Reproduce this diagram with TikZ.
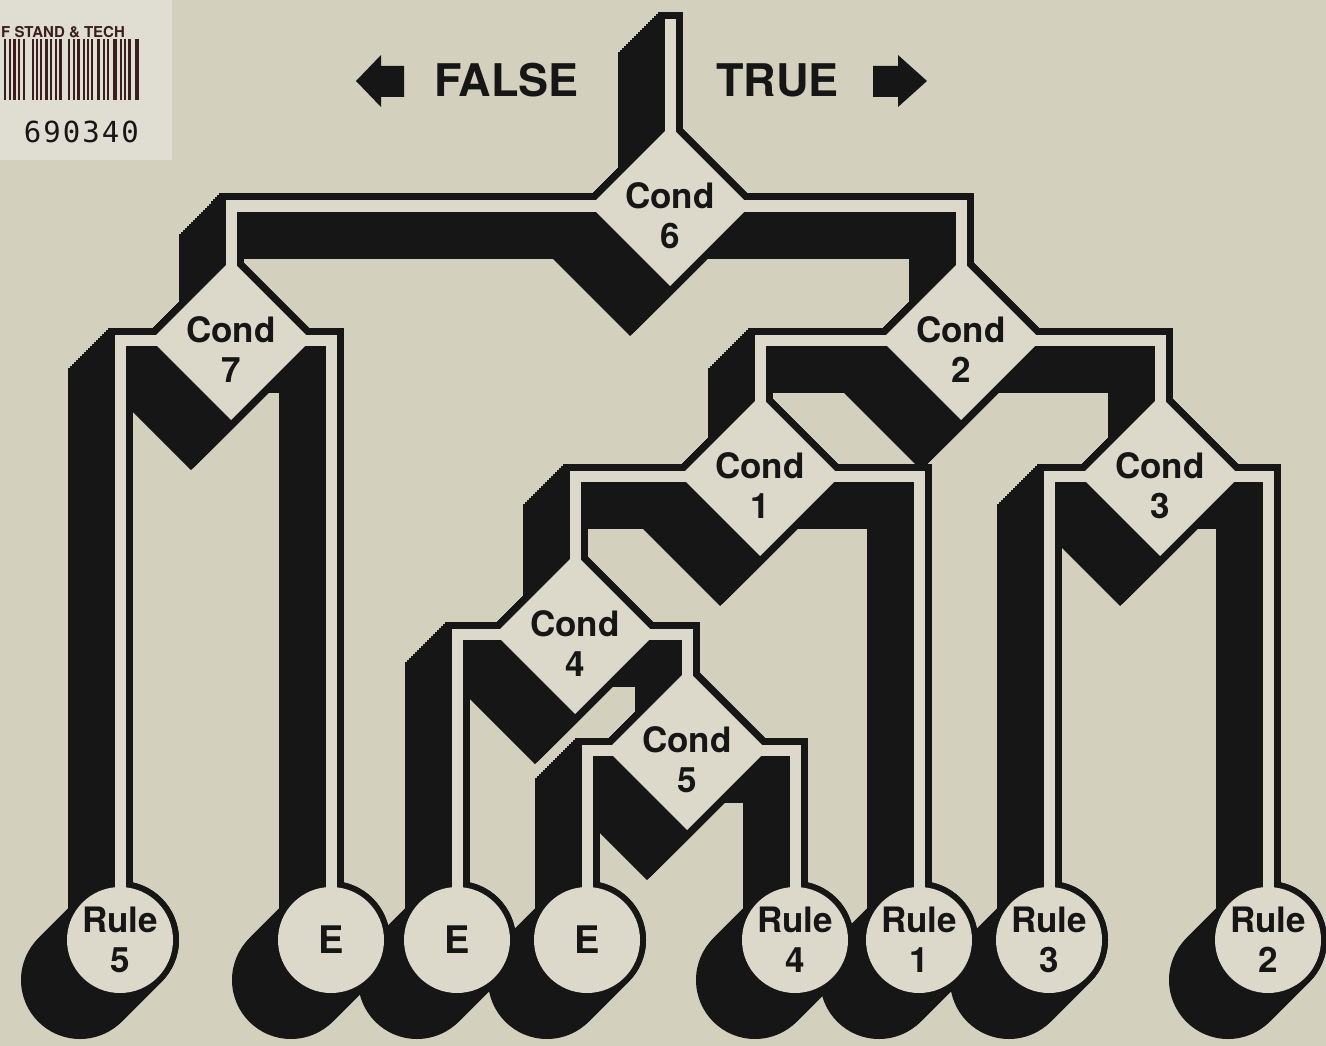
\documentclass[tikz,border=0pt]{standalone}
\usepackage{fontspec}
\setmainfont{TeX Gyre Heros}
\newfontfamily\codefont[LetterSpace=7]{DejaVu Sans Mono}
\definecolor{coverbg}{HTML}{D4D0BE}
\definecolor{pipelight}{HTML}{DCD9CA}
\definecolor{inkblack}{HTML}{161616}
\definecolor{labelbg}{HTML}{E0DED2}
\definecolor{labelink}{HTML}{3A1E1E}

% the whole pipe network: width, diamond half diagonal, circle radius, stem cut, colour
\newcommand\drawnet[5]{%
  \draw[#5, line width=#1, line join=miter, line cap=butt]
    ([yshift=-#4]stemtop) -- (c6)
    (c6) -| (c7) (c6) -| (c2)
    (c7) -| (r5) (c7) -| (e1)
    (c2) -| (c1) (c2) -| (c3)
    (c1) -| (c4) (c1) -| (r1)
    (c3) -| (r3) (c3) -| (r2)
    (c4) -| (e2) (c4) -| (c5)
    (c5) -| (e3) (c5) -| (r4);
  \foreach \c in {c6,c7,c2,c1,c3,c4,c5}
    \fill[#5] (\c) +(0,-#2) -- +(#2,0) -- +(0,#2) -- +(-#2,0) -- cycle;
  \foreach \r in {r5,e1,e2,e3,r4,r1,r3,r2}
    \fill[#5] (\r) circle[radius=#3];
}

\begin{document}
\begin{tikzpicture}[
    x=1pt, y=-1pt,
    condtxt/.style={font=\bfseries\fontsize{35}{40}\selectfont, align=center,
                    inner sep=0pt, text=inkblack},
    endtxt/.style={font=\bfseries\fontsize{38}{40}\selectfont, inner sep=0pt,
                   text=inkblack},
    dirtxt/.style={font=\bfseries\fontsize{45}{50}\selectfont, inner sep=0pt,
                   text=inkblack}
  ]
  \useasboundingbox (0,0) rectangle (1326,1046);
  \fill[coverbg] (0,0) rectangle (1326,1046);

  % --- library label ---
  \fill[labelbg] (0,0) rectangle (172,160);
  \node[anchor=west, inner sep=0pt, text=labelink,
        font=\bfseries\fontsize{15}{16}\selectfont] (labtop) at (1,32) {F STAND \& TECH};
  \foreach \bx/\bw in {4/2,9/1.5,13/3,18/2,23/1.5,32/2,36/1.5,40/2,45/3,50/2,55/1.5,
                       59/3,68/2,73/1.5,77/3,83/1.5,87/1.5,91/1.5,97/3,103/1.5,107/1.5,
                       113/4,120/1.5,124/1.5,128/2.5,135/3.5}
    \fill[labelink] (\bx,39) rectangle ++(\bw,61);
  \node[anchor=east, inner sep=0pt, text=inkblack,
        font=\codefont\fontsize{29}{30}\selectfont] (labnum) at (139,132) {690340};

  % --- direction arrows ---
  \fill[inkblack] (356,81) -- (381,55) -- (381,66) -- (404,66) -- (404,97)
                  -- (381,97) -- (381,107) -- cycle;
  \fill[inkblack] (927,81) -- (898,55) -- (898,66) -- (873,66) -- (873,97)
                  -- (898,97) -- (898,107) -- cycle;
  \node[dirtxt, anchor=base west] (falselbl) at (434,97) {FALSE};
  \node[dirtxt, anchor=base west] (truelbl) at (716,97) {TRUE};

  % --- tree points ---
  \coordinate (stemtop) at (670,12);
  \coordinate (c6) at (670,206);
  \coordinate (c7) at (231,340);
  \coordinate (c2) at (961,340);
  \coordinate (c1) at (760,476);
  \coordinate (c3) at (1160,476);
  \coordinate (c4) at (575,634);
  \coordinate (c5) at (687,750);
  \coordinate (r5) at (120,940);
  \coordinate (e1) at (331,940);
  \coordinate (e2) at (457,940);
  \coordinate (e3) at (587,940);
  \coordinate (r4) at (795,940);
  \coordinate (r1) at (919,940);
  \coordinate (r3) at (1049,940);
  \coordinate (r2) at (1268,940);

  % shadow, then rim, then face
  \foreach \k in {0,2,...,40}{
    \begin{scope}[transform canvas={xshift=-\k pt, yshift=-\k pt}]
      \drawnet{25pt}{90}{59}{0pt}{inkblack}
    \end{scope}
  }
  \drawnet{25pt}{90}{59}{0pt}{inkblack}
  \drawnet{11pt}{80}{53}{7pt}{pipelight}

  % --- labels ---
  \node[condtxt] (cond6) at ([yshift=-10pt]c6) {Cond\\6};
  \node[condtxt] (cond7) at ([yshift=-10pt]c7) {Cond\\7};
  \node[condtxt] (cond2) at ([yshift=-10pt]c2) {Cond\\2};
  \node[condtxt] (cond1) at ([yshift=-10pt]c1) {Cond\\1};
  \node[condtxt] (cond3) at ([yshift=-10pt]c3) {Cond\\3};
  \node[condtxt] (cond4) at ([yshift=-10pt]c4) {Cond\\4};
  \node[condtxt] (cond5) at ([yshift=-10pt]c5) {Cond\\5};

  \node[condtxt] (rule5) at (r5) {Rule\\5};
  \node[endtxt] (end1) at (e1) {E};
  \node[endtxt] (end2) at (e2) {E};
  \node[endtxt] (end3) at (e3) {E};
  \node[condtxt] (rule4) at (r4) {Rule\\4};
  \node[condtxt] (rule1) at (r1) {Rule\\1};
  \node[condtxt] (rule3) at (r3) {Rule\\3};
  \node[condtxt] (rule2) at (r2) {Rule\\2};
\end{tikzpicture}
\end{document}
